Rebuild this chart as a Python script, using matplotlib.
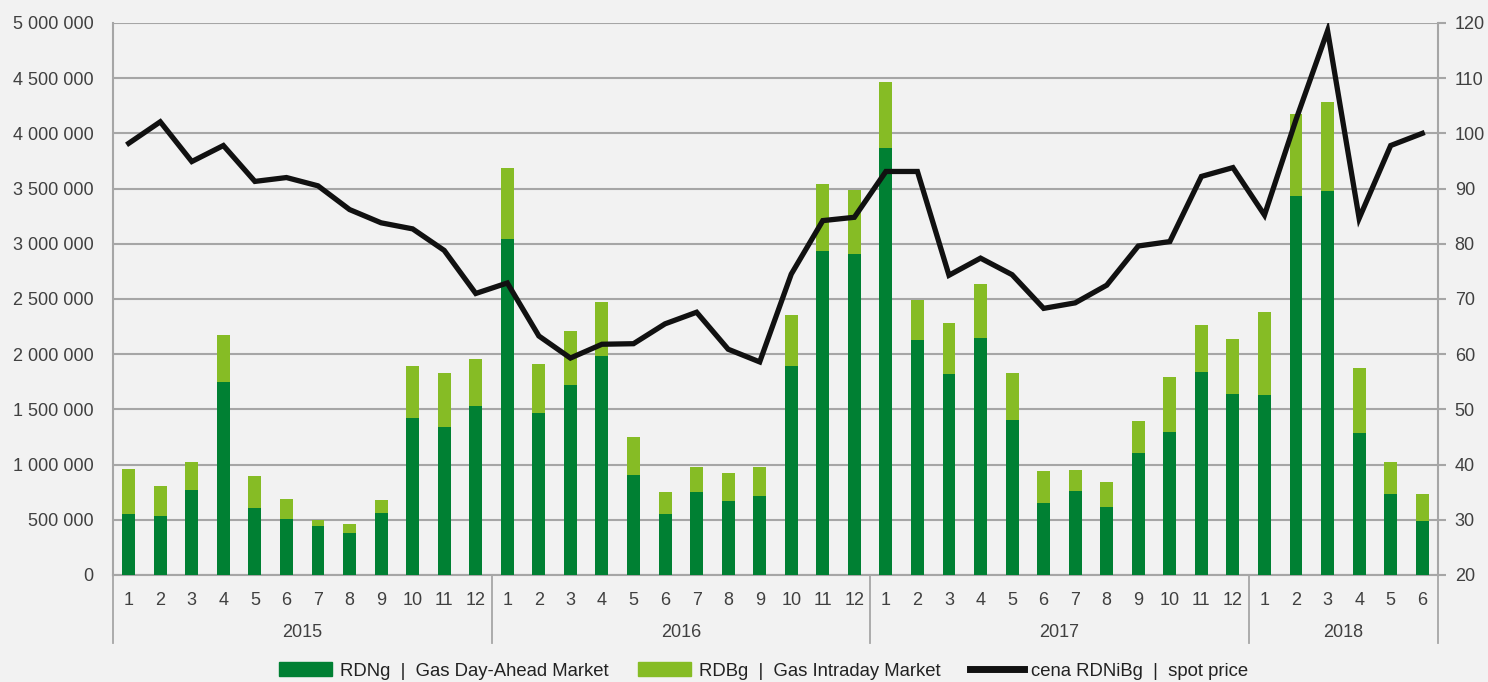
import matplotlib.pyplot as plt
from matplotlib.ticker import FuncFormatter, MultipleLocator
from matplotlib.patches import Patch
from matplotlib.lines import Line2D

plt.rcParams['font.family'] = ['Liberation Sans', 'DejaVu Sans']

years = ["2015", "2016", "2017", "2018"]
months_per_year = [12, 12, 12, 6]
month_labels = [str(m) for n in months_per_year for m in range(1, n + 1)]

# RDNg - gas day-ahead market volume
rdng = [553000, 537000, 773000, 1748000, 607000, 510000, 447000, 377000, 565000, 1425000, 1344000, 1531000,
        3043000, 1470000, 1721000, 1984000, 909000, 553000, 752000, 670000, 716000, 1893000, 2935000, 2908000,
        3868000, 2125000, 1821000, 2147000, 1401000, 649000, 761000, 619000, 1105000, 1295000, 1842000, 1643000,
        1630000, 3433000, 3478000, 1286000, 737000, 486000]
# totals (RDNg + RDBg)
total = [963000, 806000, 1026000, 2171000, 897000, 691000, 495000, 462000, 676000, 1893000, 1827000, 1954000,
         3684000, 1911000, 2207000, 2470000, 1250000, 755000, 978000, 921000, 978000, 2352000, 3542000, 3490000,
         4466000, 2490000, 2283000, 2636000, 1827000, 939000, 951000, 845000, 1398000, 1796000, 2262000, 2138000,
         2379000, 4173000, 4287000, 1878000, 1026000, 731000]
rdbg = [t - d for t, d in zip(total, rdng)]

# spot price
price = [98.2, 102.1, 94.9, 97.8, 91.3, 92.0, 90.5, 86.2, 83.8, 82.7, 78.8, 71.0,
         72.9, 63.3, 59.3, 61.8, 61.9, 65.5, 67.6, 60.9, 58.6, 74.5, 84.2, 84.8,
         93.1, 93.1, 74.3, 77.4, 74.4, 68.3, 69.3, 72.5, 79.6, 80.4, 92.2, 93.8,
         85.2, 102.5, 118.6, 84.6, 97.8, 100.0]

bg = "#f2f2f2"
dark = "#008033"
light = "#86bc25"
grey = "#a6a6a6"
txt = "#404040"

x = list(range(len(rdng)))

fig = plt.figure(figsize=(14.88, 6.82), dpi=100, facecolor=bg)
ax = fig.add_axes([0.0759, 0.1569, 0.8905, 0.8094])
ax.set_facecolor(bg)

ax.bar(x, rdng, width=0.41, color=dark, zorder=3)
ax.bar(x, rdbg, bottom=rdng, width=0.41, color=light, zorder=3)

ax.set_xlim(-0.5, len(x) - 0.5)
ax.set_ylim(0, 5000000)
ax.yaxis.set_major_locator(MultipleLocator(500000))
ax.yaxis.set_major_formatter(FuncFormatter(lambda v, p: f"{v:,.0f}".replace(",", " ")))
ax.grid(axis="y", color=grey, lw=1.5, zorder=0)
ax.tick_params(axis="y", length=0, labelsize=13, colors=txt, pad=14)
ax.set_xticks(x)
ax.set_xticklabels(month_labels)
ax.tick_params(axis="x", length=0, labelsize=13, colors=txt, pad=12)

ax.spines["top"].set_visible(False)
for s in ["left", "right", "bottom"]:
    ax.spines[s].set_color(grey)
    ax.spines[s].set_linewidth(1.5)

# year grouping under the month labels
trans = ax.get_xaxis_transform()
start = -0.5
ax.plot([start, start], [0, -0.124], transform=trans, color=grey, lw=1.3, clip_on=False)
for yr, n in zip(years, months_per_year):
    end = start + n
    ax.plot([end, end], [0, -0.124], transform=trans, color=grey, lw=1.3, clip_on=False)
    ax.text((start + end) / 2, -0.105, yr, transform=trans, ha="center", va="center",
            fontsize=13, color=txt)
    start = end

ax2 = ax.twinx()
ax2.plot(x, price, color="#111111", lw=3.8, solid_joinstyle="miter", zorder=4)
ax2.set_ylim(20, 120)
ax2.yaxis.set_major_locator(MultipleLocator(10))
ax2.tick_params(axis="y", length=6, width=1.5, color=grey, labelsize=13, colors=txt, pad=6)
for s in ax2.spines.values():
    s.set_visible(False)

handles = [Patch(color=dark), Patch(color=light), Line2D([], [], color="#111111", lw=5)]
labels = ["RDNg  |  Gas Day-Ahead Market", "RDBg  |  Gas Intraday Market", "cena RDNiBg  |  spot price"]
fig.legend(handles, labels, loc="center", bbox_to_anchor=(0.513, 0.016), ncol=3, frameon=False,
           fontsize=13.3, handlelength=2.9, handleheight=0.8, handletextpad=0.4, columnspacing=1.6,
           labelcolor="#222222")

fig.savefig("out.png", dpi=100, facecolor=bg)
